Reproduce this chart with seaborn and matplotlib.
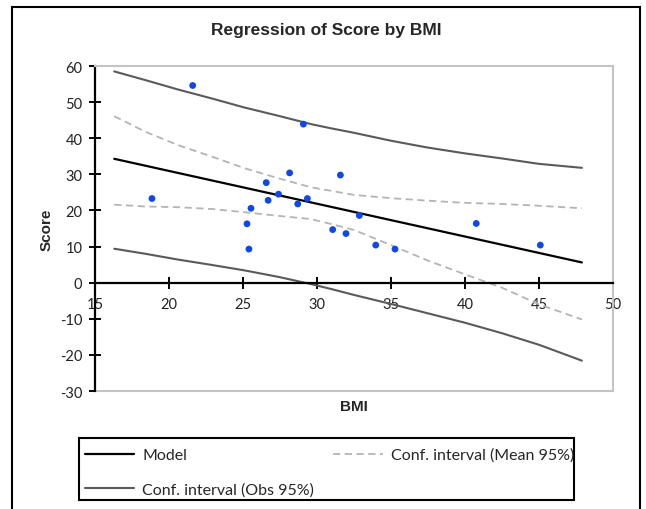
import numpy as np
import pandas as pd
import matplotlib
matplotlib.use('Agg')
import matplotlib.pyplot as plt
import seaborn as sns

bmi = [21.6, 18.85, 25.27, 25.4, 25.54, 26.57, 26.7, 27.4, 28.15, 28.7,
       29.08, 29.35, 31.06, 31.58, 31.96, 32.86, 33.97, 35.27, 40.76, 45.09]
score = [54.6, 23.3, 16.3, 9.3, 20.6, 27.7, 22.8, 24.5, 30.4, 21.8,
         43.9, 23.3, 14.7, 29.8, 13.6, 18.6, 10.4, 9.3, 16.4, 10.4]

# fitted model
model_x = [16.3, 47.9]
model_y = [34.3, 5.6]

# confidence bands
band_x = [16.3, 18.4, 20.6, 22.9, 25.1, 27.4, 29.6, 31.0, 32.5, 35.0, 37.5, 40.0, 42.5, 45.0, 47.9]
mean_hi = [46.1, 41.8, 38.1, 34.9, 31.7, 28.9, 26.4, 25.4, 24.3, 23.4, 22.7, 22.1, 21.8, 21.3, 20.6]
mean_lo = [21.6, 21.1, 20.9, 20.4, 19.5, 18.5, 17.6, 16.2, 14.6, 10.4, 6.1, 2.3, -1.4, -6.0, -10.2]
obs_hi = [58.5, 56.1, 53.5, 51.0, 48.5, 46.2, 43.9, 42.7, 41.5, 39.3, 37.4, 35.8, 34.4, 32.9, 31.8]
obs_lo = [9.4, 8.0, 6.4, 4.9, 3.4, 1.6, -0.4, -1.8, -3.4, -5.9, -8.5, -11.1, -14.0, -17.2, -21.6]

x_ticks = [15, 20, 25, 30, 35, 40, 45, 50]
y_ticks = [-30, -20, -10, 0, 10, 20, 30, 40, 50, 60]

sns.set_style('white')
plt.rcParams['font.family'] = ['Lato', 'DejaVu Sans']
plt.rcParams['axes.unicode_minus'] = False

W, H = 646, 510
fig = plt.figure(figsize=(W / 100, H / 100), dpi=100)
ax = fig.add_axes([95 / W, 1 - 392 / H, 518 / W, 325 / H])

obs_c = '#5a5a5a'
mean_c = '#b4b4b4'
sns.lineplot(x=band_x, y=obs_hi, ax=ax, color=obs_c, lw=1.5, label='Conf. interval (Obs 95%)')
sns.lineplot(x=band_x, y=obs_lo, ax=ax, color=obs_c, lw=1.5)
sns.lineplot(x=band_x, y=mean_hi, ax=ax, color=mean_c, lw=1.3, linestyle=(0, (4, 2.5)),
             label='Conf. interval (Mean 95%)')
sns.lineplot(x=band_x, y=mean_lo, ax=ax, color=mean_c, lw=1.3, linestyle=(0, (4, 2.5)))
sns.lineplot(x=model_x, y=model_y, ax=ax, color='black', lw=1.6, label='Model')
sns.scatterplot(x=bmi, y=score, ax=ax, color='#0f48e8', s=24, edgecolor='none',
                legend=False, zorder=5)

ax.set_xlim(15, 50)
ax.set_ylim(-30, 60)
ax.set_xticks(x_ticks)
ax.set_yticks(y_ticks)

# axes: black y axis on the left, x axis through zero, grey plot-area frame
for s in ['top', 'right']:
    ax.spines[s].set_color('#c4c4c4')
    ax.spines[s].set_linewidth(1.5)
ax.spines['left'].set_color('black')
ax.spines['left'].set_linewidth(1.6)
ax.spines['bottom'].set_position(('data', 0))
ax.spines['bottom'].set_color('black')
ax.spines['bottom'].set_linewidth(1.6)
ax.plot([0, 1], [0, 0], transform=ax.transAxes, color='#c4c4c4', lw=1.5, clip_on=False)
ax.tick_params(axis='both', direction='inout', length=9, width=1.4, color='black',
               labelsize=10.5, labelcolor='#222222', bottom=True, left=True)
ax.tick_params(axis='y', pad=4.5)
ax.tick_params(axis='x', pad=5.5)
ax.grid(False)

ax.set_xlabel('BMI', fontsize=11, fontweight='bold', family='Liberation Sans')
ax.xaxis.set_label_coords(0.5, -0.025)
ax.set_ylabel('Score', fontsize=11, fontweight='bold', family='Liberation Sans')
ax.yaxis.set_label_coords(-0.08, 0.5)

fig.text(0.505, 1 - 31 / H, 'Regression of Score by BMI', ha='center', va='center',
         fontsize=12.5, fontweight='bold', family='Liberation Sans')

# legend in its own box below the chart
handles, labels = ax.get_legend_handles_labels()
ax.get_legend().remove()
order = [labels.index('Model'), labels.index('Conf. interval (Obs 95%)'),
         labels.index('Conf. interval (Mean 95%)')]
fig.legend([handles[i] for i in order], [labels[i] for i in order], ncol=2,
           loc='upper left', bbox_to_anchor=(80 / W, 1 - 444 / H), frameon=False,
           fontsize=11.5, handlelength=3.1, handletextpad=0.5, columnspacing=1.2,
           labelspacing=1.25, borderaxespad=0, borderpad=0.3)
fig.add_artist(plt.Rectangle((79 / W, 1 - 501 / H), 495 / W, 62 / H, transform=fig.transFigure,
                             fill=False, ec='black', lw=1.5))

# outer frame (open at the bottom)
fig.add_artist(plt.Rectangle((12 / W, -0.1), 628 / W, 1.1 - 8 / H, transform=fig.transFigure,
                             fill=False, ec='black', lw=1.5))

fig.savefig('out.png', dpi=100)
